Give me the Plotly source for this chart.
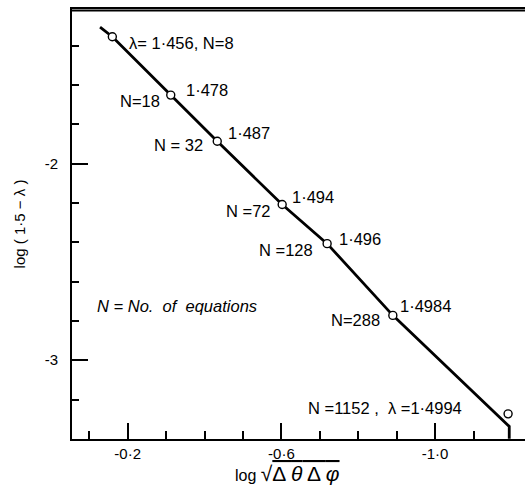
import plotly.graph_objects as go

# ---- data ----
N_labels = ["8", "18", "32", "72", "128", "288", "1152"]
lam_labels = ["1·456", "1·478", "1·487", "1·494", "1·496", "1·4984", "1·4994"]
x_vals = [-0.160, -0.312, -0.433, -0.602, -0.719, -0.890, -1.190]
y_vals = [-1.354, -1.651, -1.886, -2.208, -2.407, -2.772, -3.273]

fit_x = [-0.128, -0.160, -0.312, -0.433, -0.602, -0.719, -0.890, -1.193, -1.193]
fit_y = [-1.305, -1.354, -1.651, -1.886, -2.208, -2.407, -2.772, -3.337, -3.400]

x_major = [-0.2, -0.6, -1.0]
x_major_text = ["-0·2", "-0·6", "-1·0"]
x_minor = [-0.1, -0.3, -0.4, -0.5, -0.7, -0.8, -0.9, -1.1]
y_major = [-2, -3]
y_major_text = ["-2", "-3"]
y_minor = [-1.4, -1.6, -1.8, -2.2, -2.4, -2.6, -2.8, -3.2]
y_top = -1.213
y_bottom = -3.401

FONT = "Liberation Sans"

fig = go.Figure()
fig.add_trace(go.Scatter(x=fit_x, y=fit_y, mode="lines",
                         line=dict(color="black", width=2.8),
                         hoverinfo="skip", showlegend=False))
fig.add_trace(go.Scatter(x=x_vals, y=y_vals, mode="markers",
                         marker=dict(symbol="circle", size=8, color="white",
                                     line=dict(color="black", width=1.4)),
                         showlegend=False))

# annotations: (point index, text, side, xshift, yshift)
ann_specs = [
    (0, "λ= " + lam_labels[0] + ", N=" + N_labels[0], "left", 15, -6),
    (1, lam_labels[1], "left", 13, 5),
    (1, "N=" + N_labels[1], "right", -9, -6),
    (2, lam_labels[2], "left", 9, 8),
    (2, "N = " + N_labels[2], "right", -12, -4),
    (3, lam_labels[3], "left", 8, 8),
    (3, "N =" + N_labels[3], "right", -9, -6),
    (4, lam_labels[4], "left", 10, 5),
    (4, "N =" + N_labels[4], "right", -12, -6),
    (5, lam_labels[5], "left", 5, 9),
    (5, "N=" + N_labels[5], "right", -11, -5),
    (6, "N =" + N_labels[6] + " ,  λ =" + lam_labels[6], "right", -44, 6),
]
for i, txt, side, xs, ys in ann_specs:
    fig.add_annotation(x=x_vals[i], y=y_vals[i], xref="x", yref="y", text=txt,
                       showarrow=False, xanchor=side, yanchor="middle",
                       xshift=xs, yshift=ys,
                       font=dict(family=FONT, size=16.5, color="black"))

fig.add_annotation(x=0.05, y=0.31, xref="paper", yref="paper",
                   text="<i>N = No.  of  equations</i>", showarrow=False,
                   xanchor="left", yanchor="middle",
                   font=dict(family=FONT, size=16.5, color="black"))

# x-axis title as an annotation for exact placement
fig.add_annotation(x=0.475, y=-0.080, xref="paper", yref="paper",
                   text="<span style='font-size:16px'>log </span>√<span style='text-decoration:overline'>Δ <i>θ</i> Δ <i>φ</i></span>",
                   showarrow=False, xanchor="center", yanchor="middle",
                   font=dict(family=FONT, size=21, color="black"))

fig.update_xaxes(range=[-0.055, -1.234], tickmode="array", tickvals=x_major,
                 ticktext=x_major_text, ticks="inside", ticklen=16, tickwidth=1.5,
                 tickcolor="black", showline=True, linecolor="black", linewidth=2,
                 mirror=True, showgrid=False, zeroline=False,
                 ticklabelstandoff=0,
                 tickfont=dict(family=FONT, size=15, color="black"),
                 minor=dict(tickvals=x_minor, ticks="inside", ticklen=8,
                            tickwidth=1.5, tickcolor="black", showgrid=False))
fig.update_yaxes(range=[y_bottom, y_top], tickmode="array", tickvals=y_major,
                 ticktext=y_major_text, ticks="inside", ticklen=16, tickwidth=1.5,
                 tickcolor="black", showline=True, linecolor="black", linewidth=2,
                 mirror=False, showgrid=False, zeroline=False,
                 ticklabelstandoff=9,
                 tickfont=dict(family=FONT, size=15, color="black"),
                 minor=dict(tickvals=y_minor, ticks="inside", ticklen=7,
                            tickwidth=1.5, tickcolor="black", showgrid=False),
                 title=dict(text="log ( 1·5 − λ )",
                            font=dict(family=FONT, size=15, color="black"),
                            standoff=15))

# top frame line
fig.add_shape(type="line", xref="paper", yref="y", x0=0, x1=1,
              y0=y_top - 0.008, y1=y_top - 0.008,
              line=dict(color="black", width=2))

fig.update_layout(width=525, height=488, margin=dict(l=72, r=0, t=9, b=49),
                  plot_bgcolor="white", paper_bgcolor="white", showlegend=False)

fig.write_html("out.html")
